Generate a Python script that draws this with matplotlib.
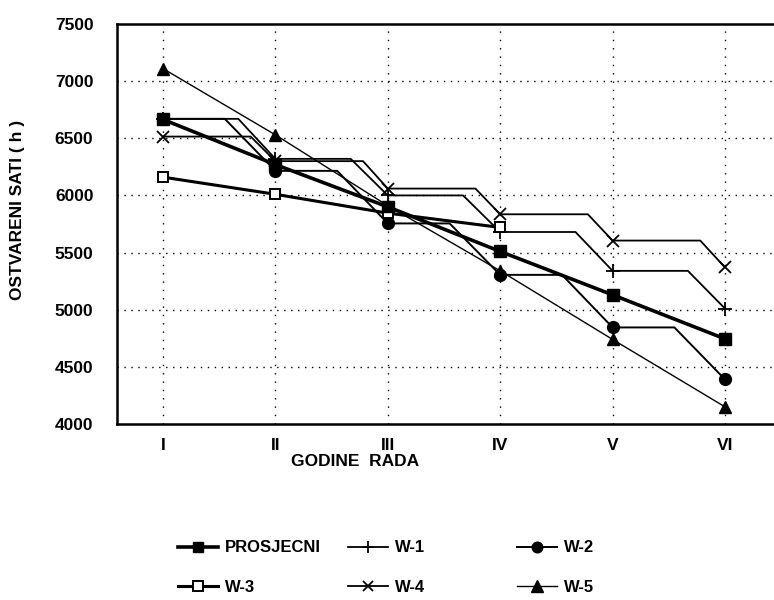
import numpy as np
import matplotlib
matplotlib.use("Agg")
import matplotlib.pyplot as plt
from matplotlib.lines import Line2D

# ─────────────────────────────────────────────
# DATA
# ─────────────────────────────────────────────
years = ["I", "II", "III", "IV", "V", "VI"]

prosjecni = [6665, 6270, 5900, 5510, 5130, 4745]
w1 = [6670, 6320, 6000, 5680, 5340, 5010]
w2 = [6670, 6215, 5755, 5305, 4845, 4390]
w3 = [6160, 6010, 5845, 5720, np.nan, np.nan]
w4 = [6515, 6300, 6060, 5835, 5605, 5370]
w5 = [7110, 6530, 5910, 5340, 4740, 4150]

yticks = [4000, 4500, 5000, 5500, 6000, 6500, 7000, 7500]

plt.rcParams["font.family"] = ["Liberation Sans", "DejaVu Sans"]
plt.rcParams["font.weight"] = "bold"


def shoulder(x, y, frac):
    """Path that holds each value flat for `frac` of the step, then slopes to the next."""
    xs, ys = [], []
    for i in range(len(x) - 1):
        xs += [x[i], x[i] + frac]
        ys += [y[i], y[i]]
    xs.append(x[-1])
    ys.append(y[-1])
    return xs, ys


fig = plt.figure(figsize=(7.74, 6.0), dpi=100)
ax = fig.add_axes([117 / 774, 1 - 424 / 600, 1 - 117 / 774, 400 / 600])

x = np.arange(len(years))

# series styles
series = [
    ("PROSJECNI", prosjecni, dict(marker="s", ms=8, mfc="black", lw=2.6), None),
    ("W-1", w1, dict(marker="+", ms=10, mew=1.3, lw=1.3), 0.67),
    ("W-2", w2, dict(marker="o", ms=8.5, mfc="black", lw=1.4), 0.55),
    ("W-3", w3, dict(marker="s", ms=7.5, mfc="white", mew=1.4, lw=2.2), None),
    ("W-4", w4, dict(marker="x", ms=8, mew=1.3, lw=1.3), 0.78),
    ("W-5", w5, dict(marker="^", ms=9, mfc="black", lw=1.0), None),
]

handles = []
for name, vals, st, frac in series:
    vals = np.asarray(vals, dtype=float)
    ok = ~np.isnan(vals)
    if frac is None:
        ax.plot(x[ok], vals[ok], color="black", lw=st["lw"], zorder=3)
    else:
        px, py = shoulder(x[ok], vals[ok], frac)
        ax.plot(px, py, color="black", lw=st["lw"], zorder=3)
    ax.plot(x[ok], vals[ok], ls="none", color="black", marker=st["marker"],
            ms=st["ms"], mfc=st.get("mfc", "black"), mec="black",
            mew=st.get("mew", 1.0), zorder=4)
    handles.append(Line2D([], [], color="black", lw=st["lw"], marker=st["marker"],
                          ms=st["ms"] * 0.9, mfc=st.get("mfc", "black"), mec="black",
                          mew=st.get("mew", 1.0), label=name))

ax.set_xlim(-0.409, 5.436)
ax.set_ylim(4000, 7500)
ax.set_xticks(x)
ax.set_xticklabels(years)
ax.set_yticks(yticks)
ax.tick_params(axis="both", labelsize=12.5, length=0)
ax.tick_params(axis="y", pad=17)
ax.tick_params(axis="x", pad=10)

# dotted grid
for v in yticks[1:-1]:
    ax.axhline(v, color="black", lw=1.0, ls=(0, (1, 4)), zorder=1)
for xi in x:
    ax.axvline(xi, color="black", lw=1.0, ls=(0, (1, 5)), zorder=1)

for side in ["left", "bottom", "top"]:
    ax.spines[side].set_linewidth(1.8)
ax.spines["right"].set_visible(False)

ax.set_xlabel("GODINE  RADA", fontsize=12.5, fontweight="bold")
ax.xaxis.set_label_coords(0.362, -0.0925)
ax.xaxis.label.set_va("center")
ax.set_ylabel("OSTVARENI SATI ( h )", fontsize=12.5, fontweight="bold")
ax.yaxis.set_label_coords(-0.152, 0.535)
ax.yaxis.label.set_va("center")

# legend: three columns placed where they sit in the scan
col_x = [178, 348, 517]
for c in range(3):
    fig.legend(handles=[handles[c], handles[c + 3]], loc="center left",
               bbox_to_anchor=(col_x[c] / 774, 1 - 567.5 / 600),
               frameon=False, fontsize=12, handlelength=2.4,
               handletextpad=0.4, labelspacing=1.45,
               borderpad=0, borderaxespad=0)

fig.savefig("out.png", dpi=100)
plt.close(fig)
